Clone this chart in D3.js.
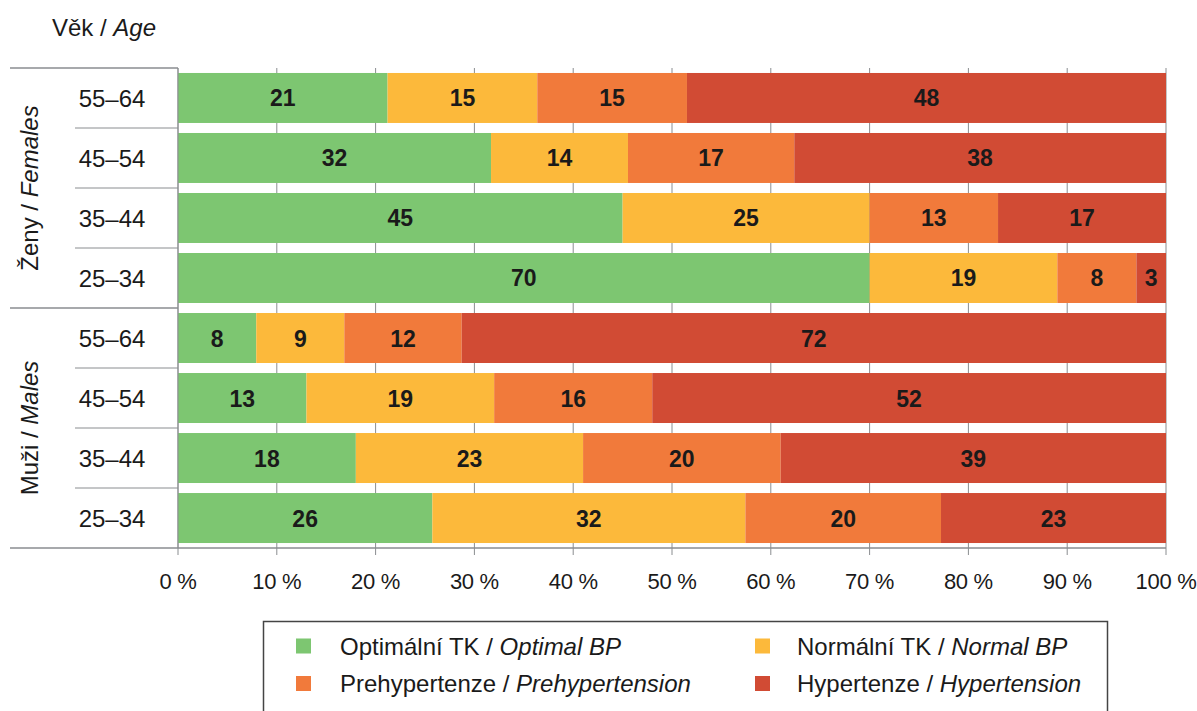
<!DOCTYPE html>
<html>
<head>
<meta charset="utf-8">
<script src="https://cdn.jsdelivr.net/npm/d3@7"></script>
<style>
  body { margin: 0; background: #fff; }
  text { font-family: Arial, "Liberation Sans", sans-serif; }
</style>
</head>
<body>
<div id="chart"></div>
<script>
// data
const groups = ["Ženy", "Muži"];
const groupsEn = ["Females", "Males"];
const ages = ["55–64", "45–54", "35–44", "25–34"];
const seriesKeys = ["opt", "norm", "pre", "hyp"];
const seriesCz = ["Optimální TK", "Normální TK", "Prehypertenze", "Hypertenze"];
const seriesEn = ["Optimal BP", "Normal BP", "Prehypertension", "Hypertension"];
const colors = ["#7dc671", "#fcb93b", "#f17a3b", "#d14b34"];

const optimal = [21, 32, 45, 70, 8, 13, 18, 26];
const normal = [15, 14, 25, 19, 9, 19, 23, 32];
const prehyp = [15, 17, 13, 8, 12, 16, 20, 20];
const hyper = [48, 38, 17, 3, 72, 52, 39, 23];
const xTicks = [0, 10, 20, 30, 40, 50, 60, 70, 80, 90, 100];

const rows = [];
groups.forEach((g, gi) => {
    ages.forEach((a, ai) => {
        const i = gi * ages.length + ai;
        rows.push({ id: g + a, group: g, age: a,
            opt: optimal[i], norm: normal[i], pre: prehyp[i], hyp: hyper[i] });
    });
});

const svgWidth = 1197, svgHeight = 711;
const plotLeft = 178, plotRight = 1166, plotTop = 68, plotBottom = 548;
const textColor = "#1a1a1a";

const svg = d3.select("#chart").append("svg")
    .attr("width", svgWidth)
    .attr("height", svgHeight);

const x = d3.scaleLinear().domain([0, 1]).range([plotLeft, plotRight]);
const y = d3.scaleBand().domain(rows.map(d => d.id)).range([plotTop, plotBottom]).paddingInner(0.167).paddingOuter(0.083);

const stack = d3.stack().keys(seriesKeys).offset(d3.stackOffsetExpand);
const stacked = stack(rows);

const lineColor = "#8a8d90";

// gridlines
svg.append("g")
    .selectAll("line")
    .data(xTicks)
    .join("line")
    .attr("x1", d => x(d / 100)).attr("x2", d => x(d / 100))
    .attr("y1", plotTop).attr("y2", plotBottom + 7)
    .attr("stroke", lineColor).attr("stroke-width", 1);

// bars
stacked.forEach((s, si) => {
    svg.append("g")
        .selectAll("rect")
        .data(s)
        .join("rect")
        .attr("x", d => x(d[0]))
        .attr("y", d => y(d.data.id))
        .attr("width", d => x(d[1]) - x(d[0]))
        .attr("height", y.bandwidth())
        .attr("fill", colors[si]);

    svg.append("g")
        .selectAll("text")
        .data(s)
        .join("text")
        .attr("x", d => (x(d[0]) + x(d[1])) / 2)
        .attr("y", d => y(d.data.id) + y.bandwidth() / 2 + 8.5)
        .attr("text-anchor", "middle")
        .attr("font-size", "23px")
        .attr("font-weight", "bold")
        .attr("fill", textColor)
        .text(d => d.data[seriesKeys[si]]);
});

// axis lines
svg.append("line").attr("x1", plotLeft).attr("x2", plotLeft).attr("y1", plotTop).attr("y2", plotBottom)
    .attr("stroke", lineColor);
svg.append("line").attr("x1", 10).attr("x2", plotRight).attr("y1", plotBottom).attr("y2", plotBottom)
    .attr("stroke", lineColor).attr("stroke-width", 1.5);
svg.append("line").attr("x1", 10).attr("x2", plotLeft).attr("y1", plotTop).attr("y2", plotTop)
    .attr("stroke", lineColor).attr("stroke-width", 1.5);
svg.append("line").attr("x1", 10).attr("x2", plotLeft)
    .attr("y1", (plotTop + plotBottom) / 2).attr("y2", (plotTop + plotBottom) / 2)
    .attr("stroke", lineColor).attr("stroke-width", 1.5);

// short separators between age rows
const rowStep = (plotBottom - plotTop) / rows.length;
svg.append("g")
    .selectAll("line")
    .data(d3.range(1, rows.length).filter(i => i !== ages.length))
    .join("line")
    .attr("x1", 75).attr("x2", plotLeft)
    .attr("y1", i => plotTop + i * rowStep).attr("y2", i => plotTop + i * rowStep)
    .attr("stroke", lineColor);

// x tick labels
svg.append("g")
    .selectAll("text")
    .data(xTicks)
    .join("text")
    .attr("x", d => x(d / 100))
    .attr("y", 589)
    .attr("text-anchor", "middle")
    .attr("font-size", "22px")
    .attr("letter-spacing", "-0.3px")
    .attr("fill", textColor)
    .text(d => d + " %");

// age labels
svg.append("g")
    .selectAll("text")
    .data(rows)
    .join("text")
    .attr("x", 112)
    .attr("y", d => y(d.id) + y.bandwidth() / 2 + 9)
    .attr("text-anchor", "middle")
    .attr("font-size", "24px")
    .attr("fill", textColor)
    .text(d => d.age);

// group labels (rotated)
groups.forEach((g, gi) => {
    const cy = plotTop + (gi + 0.5) * (plotBottom - plotTop) / 2;
    const t = svg.append("text")
        .attr("transform", `translate(38,${cy}) rotate(-90)`)
        .attr("text-anchor", "middle")
        .attr("font-size", "24px")
        .attr("fill", textColor);
    t.append("tspan").text(g + " / ");
    t.append("tspan").attr("font-style", "italic").text(groupsEn[gi]);
});

// axis title
const ageTitle = svg.append("text")
    .attr("x", 52).attr("y", 36)
    .attr("font-size", "24px")
    .attr("fill", textColor);
ageTitle.append("tspan").text("Věk / ");
ageTitle.append("tspan").attr("font-style", "italic").text("Age");

// legend
svg.append("rect")
    .attr("x", 263.5).attr("y", 621.5)
    .attr("width", 844).attr("height", 100)
    .attr("fill", "none")
    .attr("stroke", "#444")
    .attr("stroke-width", 1.5);

seriesKeys.forEach((k, i) => {
    const col = i % 2;
    const row = Math.floor(i / 2);
    const lx = col === 0 ? 296 : 755;
    const ly = row === 0 ? 646 : 683.5;
    svg.append("rect")
        .attr("x", lx).attr("y", ly - 7.5)
        .attr("width", 15).attr("height", 15)
        .attr("fill", colors[i]);
    const t = svg.append("text")
        .attr("x", col === 0 ? 340 : 797)
        .attr("y", ly + 8.5)
        .attr("font-size", "24px")
        .attr("fill", textColor);
    t.append("tspan").text(seriesCz[i] + " / ");
    t.append("tspan").attr("font-style", "italic").text(seriesEn[i]);
});
</script>
</body>
</html>
